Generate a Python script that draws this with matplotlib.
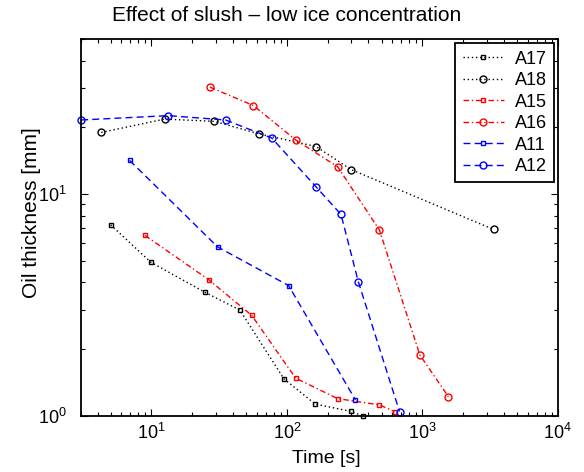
import matplotlib
matplotlib.use('Agg')
import matplotlib.pyplot as plt

plt.rcParams['font.family'] = ['Liberation Sans', 'DejaVu Sans']
plt.rcParams['mathtext.fontset'] = 'custom'
plt.rcParams['mathtext.rm'] = 'Liberation Sans'

# Time [s] and oil thickness [mm] per experiment.
t_a17 = [5.0, 9.9, 24.8, 45, 95, 162, 298, 363]
h_a17 = [7.27, 4.93, 3.61, 3.0, 1.47, 1.13, 1.047, 1.0]

t_a18 = [4.26, 12.5, 29.1, 62.4, 164, 299, 3357]
h_a18 = [18.98, 21.8, 21.3, 18.7, 16.4, 12.9, 6.93]

t_a15 = [8.97, 26.5, 55, 116, 237, 483, 624]
h_a15 = [6.51, 4.11, 2.84, 1.48, 1.196, 1.12, 1.046]

t_a16 = [27, 56.6, 117, 237, 483, 960, 1559]
h_a16 = [30.4, 25.1, 17.5, 13.3, 6.88, 1.88, 1.22]

t_a11 = [6.9, 30.8, 103, 321]
h_a11 = [14.2, 5.78, 3.87, 1.18]

t_a12 = [3.03, 13.3, 35.3, 77.4, 164, 251, 337, 679]
h_a12 = [21.6, 22.6, 21.6, 17.9, 10.8, 8.1, 4.03, 1.046]

dotted = (1, 2)
dashdot = (4, 2, 1, 2)
dashed = (5, 3)

series = [
    ('A17', t_a17, h_a17, 'k', dotted, 's'),
    ('A18', t_a18, h_a18, 'k', dotted, 'o'),
    ('A15', t_a15, h_a15, 'r', dashdot, 's'),
    ('A16', t_a16, h_a16, 'r', dashdot, 'o'),
    ('A11', t_a11, h_a11, 'b', dashed, 's'),
    ('A12', t_a12, h_a12, 'b', dashed, 'o'),
]

fig = plt.figure(figsize=(5.84, 4.72), dpi=100)
ax = fig.add_axes([0.138, 0.119, 0.817, 0.798])

for name, t, h, c, dash, m in series:
    ax.plot(t, h, color=c, linestyle=(0, dash), marker=m, linewidth=1.0,
            markersize=3.5 if m == 's' else 5, markerfacecolor='none',
            markeredgewidth=1.0, label=name, clip_on=False)

ax.set_xscale('log')
ax.set_yscale('log')
ax.set_xlim(3, 1e4)
ax.set_ylim(1, 50)

ax.tick_params(which='both', direction='in', top=True, right=True,
               labelsize=13, width=0.8)
ax.tick_params(which='major', length=5)
ax.tick_params(which='minor', length=3)
ax.tick_params(axis='x', which='major', pad=5)
ax.tick_params(axis='y', which='major', pad=10)
for spine in ax.spines.values():
    spine.set_linewidth(1.3)

ax.set_xlabel('Time [s]', fontsize=14)
ax.xaxis.set_label_coords(0.514, -0.112)
ax.xaxis.label.set_va('center')
ax.set_ylabel('Oil thickness [mm]', fontsize=15)
ax.yaxis.set_label_coords(-0.103, 0.539)
ax.yaxis.label.set_va('center')

ax.text(0.4325, 1.0486, 'Effect of slush – low ice concentration',
        transform=ax.transAxes, ha='center', va='baseline', fontsize=15)

leg = ax.legend(loc='upper right', bbox_to_anchor=(0.993, 0.989),
                borderaxespad=0, fontsize=13, fancybox=False,
                framealpha=1, edgecolor='k', handlelength=2.3,
                handletextpad=0.6, labelspacing=0.25)
leg.get_frame().set_linewidth(1.3)

fig.savefig('out.png', dpi=100)
